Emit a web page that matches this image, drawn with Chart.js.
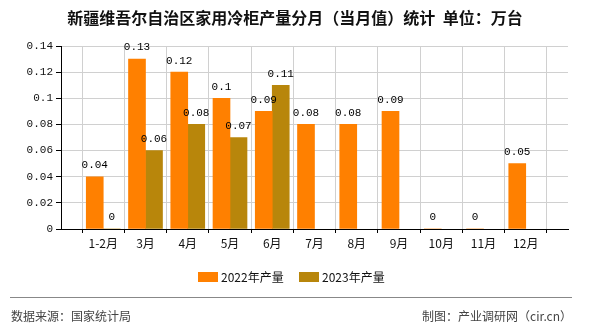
<!DOCTYPE html>
<html>
<head>
<meta charset="utf-8">
<script src="https://cdn.jsdelivr.net/npm/chart.js@4"></script>
<style>
  html, body { margin: 0; padding: 0; background: #fff; }
  #wrap { width: 590px; height: 330px; }
</style>
</head>
<body>
<div id="wrap"><canvas id="freezerChart" width="590" height="330"></canvas></div>
<script>
// Data
const categories = ['1-2月', '3月', '4月', '5月', '6月', '7月', '8月', '9月', '10月', '11月', '12月'];
const values2022 = [0.04, 0.13, 0.12, 0.1, 0.09, 0.08, 0.08, 0.09, 0, 0, 0.05];
const values2023 = [0, 0.06, 0.08, 0.07, 0.11, null, null, null, null, null, null];
const yTicks = [0, 0.02, 0.04, 0.06, 0.08, 0.1, 0.12, 0.14];

const titleText = '新疆维吾尔自治区家用冷柜产量分月（当月值）统计  单位：万台';
const sourceText = '数据来源：国家统计局';
const creditText = '制图：产业调研网（cir.cn）';

const cjk = '"Noto Sans CJK SC", "Noto Sans", sans-serif';
const mono = '"Liberation Mono", "DejaVu Sans Mono", monospace';

// blank slot at each end, so months sit on the inner grid lines
const pad = (arr) => [null, ...arr, null];

// Value labels above bars
const valueLabels = {
    id: 'valueLabels',
    afterDatasetsDraw(chart) {
        const ctx = chart.ctx;
        ctx.save();
        ctx.font = '11px ' + mono;
        ctx.fillStyle = '#000';
        ctx.textAlign = 'center';
        ctx.textBaseline = 'bottom';
        chart.data.datasets.forEach((ds, i) => {
            const meta = chart.getDatasetMeta(i);
            meta.data.forEach((bar, j) => {
                const v = ds.data[j];
                if (v === null || v === undefined) return;
                ctx.fillText(String(v), bar.x, bar.y - 6);
            });
        });
        ctx.restore();
    }
};

// Title, legend and footer
const decorations = {
    id: 'decorations',
    afterDraw(chart) {
        const ctx = chart.ctx;
        ctx.save();
        ctx.fillStyle = '#111';
        ctx.font = 'bold 16px ' + cjk;
        ctx.textAlign = 'center';
        ctx.textBaseline = 'middle';
        ctx.fillText(titleText, 295, 18);

        // legend
        ctx.font = '12px ' + cjk;
        ctx.textAlign = 'left';
        let x = 198;
        chart.data.datasets.forEach((ds) => {
            ctx.fillStyle = ds.backgroundColor;
            ctx.fillRect(x, 272, 20, 10);
            ctx.fillStyle = '#111';
            ctx.fillText(ds.label, x + 23, 277);
            x += 101;
        });

        // footer
        ctx.strokeStyle = '#888';
        ctx.lineWidth = 1;
        ctx.beginPath();
        ctx.moveTo(10, 297.5);
        ctx.lineTo(572, 297.5);
        ctx.stroke();
        ctx.fillStyle = '#444';
        ctx.font = '12px ' + cjk;
        ctx.fillText(sourceText, 11, 316);
        ctx.textAlign = 'right';
        ctx.fillText(creditText, 572, 316);
        ctx.restore();
    }
};

const ctx = document.getElementById('freezerChart').getContext('2d');
new Chart(ctx, {
    type: 'bar',
    data: {
        labels: ['', ...categories, ''],
        datasets: [{
            label: '2022年产量',
            data: pad(values2022),
            backgroundColor: '#FF8000',
            barThickness: 17,
        }, {
            label: '2023年产量',
            data: pad(values2023),
            backgroundColor: '#B8860B',
            barThickness: 17,
        }],
    },
    options: {
        responsive: false,
        animation: false,
        layout: { padding: { top: 46, right: 22, bottom: 71, left: 0 } },
        plugins: {
            legend: { display: false },
            title: { display: false },
            tooltip: { enabled: false },
        },
        scales: {
            x: {
                offset: false,
                grid: { color: '#d0d0d0', tickColor: '#000', tickLength: 4 },
                border: { color: '#000' },
                ticks: {
                    autoSkip: false,
                    maxRotation: 0,
                    padding: 3,
                    color: '#111',
                    font: { family: cjk, size: 12 },
                },
                afterFit: (scale) => { scale.height = 30; },
            },
            y: {
                min: 0,
                max: 0.14,
                afterBuildTicks: (scale) => { scale.ticks = yTicks.map((v) => ({ value: v })); },
                grid: { color: '#d0d0d0', tickColor: '#000', tickLength: 5 },
                border: { color: '#000' },
                ticks: {
                    padding: 3,
                    color: '#111',
                    font: { family: mono, size: 11 },
                    callback: (v) => String(Number(v.toFixed(2))),
                },
                afterFit: (scale) => { scale.width = 61; },
            },
        },
    },
    plugins: [valueLabels, decorations],
});
</script>
</body>
</html>
